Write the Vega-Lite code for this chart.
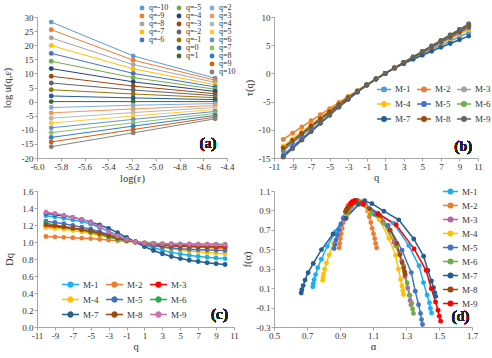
{
"$schema":"https://vega.github.io/schema/vega-lite/v6.json",
"padding":{"left":2,"top":4,"right":0,"bottom":0},
"config":{
 "font":"Liberation Serif",
 "locale":{"number":{"decimal":".","thousands":",","grouping":[3],"currency":["$",""],"minus":"-"}},
 "view":{"stroke":null},
 "axis":{"grid":false,"domainColor":"#A6A6A6","tickColor":"#A6A6A6","tickSize":3,"labelFontSize":9,"labelColor":"#333333","titleFontSize":10.5,"titleFontWeight":"normal","titleColor":"#333333","labelPadding":1,"titlePadding":3,"labelFont":"Liberation Serif","titleFont":"Liberation Serif","labelOverlap":false,"labelFlush":false,"labelBound":false},
 "axisQuantitative":{"labelOverlap":false},
 "axisX":{"labelOverlap":false},
 "axisY":{"labelOverlap":false},
 "legend":{"labelFont":"Liberation Serif","labelColor":"#333333","symbolOpacity":1}
},
"datasets":{
"a":[
{"s":"q=-10","x":-5.88,"y":28.2},{"s":"q=-10","x":-5.19,"y":16.2},{"s":"q=-10","x":-4.5,"y":8.3},
{"s":"q=-9","x":-5.88,"y":25.5},{"s":"q=-9","x":-5.19,"y":14.7},{"s":"q=-9","x":-4.5,"y":7.6},
{"s":"q=-8","x":-5.88,"y":22.6},{"s":"q=-8","x":-5.19,"y":13.1},{"s":"q=-8","x":-4.5,"y":6.8},
{"s":"q=-7","x":-5.88,"y":19.9},{"s":"q=-7","x":-5.19,"y":11.6},{"s":"q=-7","x":-4.5,"y":6.0},
{"s":"q=-6","x":-5.88,"y":17.1},{"s":"q=-6","x":-5.19,"y":10.0},{"s":"q=-6","x":-4.5,"y":5.2},
{"s":"q=-5","x":-5.88,"y":14.3},{"s":"q=-5","x":-5.19,"y":8.5},{"s":"q=-5","x":-4.5,"y":4.4},
{"s":"q=-4","x":-5.88,"y":11.7},{"s":"q=-4","x":-5.19,"y":7.0},{"s":"q=-4","x":-4.5,"y":3.6},
{"s":"q=-3","x":-5.88,"y":9.0},{"s":"q=-3","x":-5.19,"y":5.5},{"s":"q=-3","x":-4.5,"y":2.8},
{"s":"q=-2","x":-5.88,"y":6.6},{"s":"q=-2","x":-5.19,"y":4.1},{"s":"q=-2","x":-4.5,"y":2.1},
{"s":"q=-1","x":-5.88,"y":4.2},{"s":"q=-1","x":-5.19,"y":2.7},{"s":"q=-1","x":-4.5,"y":1.4},
{"s":"q=0","x":-5.88,"y":2.0},{"s":"q=0","x":-5.19,"y":1.3},{"s":"q=0","x":-4.5,"y":0.7},
{"s":"q=1","x":-5.88,"y":0.0},{"s":"q=1","x":-5.19,"y":0.0},{"s":"q=1","x":-4.5,"y":0.0},
{"s":"q=2","x":-5.88,"y":-2.1},{"s":"q=2","x":-5.19,"y":-1.3},{"s":"q=2","x":-4.5,"y":-0.7},
{"s":"q=3","x":-5.88,"y":-4.0},{"s":"q=3","x":-5.19,"y":-2.6},{"s":"q=3","x":-4.5,"y":-1.4},
{"s":"q=4","x":-5.88,"y":-5.9},{"s":"q=4","x":-5.19,"y":-3.9},{"s":"q=4","x":-4.5,"y":-2.1},
{"s":"q=5","x":-5.88,"y":-7.6},{"s":"q=5","x":-5.19,"y":-5.1},{"s":"q=5","x":-4.5,"y":-2.8},
{"s":"q=6","x":-5.88,"y":-9.3},{"s":"q=6","x":-5.19,"y":-6.3},{"s":"q=6","x":-4.5,"y":-3.5},
{"s":"q=7","x":-5.88,"y":-11.0},{"s":"q=7","x":-5.19,"y":-7.5},{"s":"q=7","x":-4.5,"y":-4.2},
{"s":"q=8","x":-5.88,"y":-12.7},{"s":"q=8","x":-5.19,"y":-8.7},{"s":"q=8","x":-4.5,"y":-4.9},
{"s":"q=9","x":-5.88,"y":-14.3},{"s":"q=9","x":-5.19,"y":-9.9},{"s":"q=9","x":-4.5,"y":-5.5},
{"s":"q=10","x":-5.88,"y":-16.0},{"s":"q=10","x":-5.19,"y":-11.1},{"s":"q=10","x":-4.5,"y":-6.1}
],
"bc":[
{"s":"M-1","q":-10,"D":1.31,"t":-14.41},{"s":"M-1","q":-9,"D":1.295,"t":-12.95},{"s":"M-1","q":-8,"D":1.28,"t":-11.52},{"s":"M-1","q":-7,"D":1.26,"t":-10.08},{"s":"M-1","q":-6,"D":1.24,"t":-8.68},{"s":"M-1","q":-5,"D":1.21,"t":-7.26},{"s":"M-1","q":-4,"D":1.17,"t":-5.85},{"s":"M-1","q":-3,"D":1.125,"t":-4.5},{"s":"M-1","q":-2,"D":1.08,"t":-3.24},{"s":"M-1","q":-1,"D":1.04,"t":-2.08},{"s":"M-1","q":0,"D":1.0,"t":-1},{"s":"M-1","q":1,"D":0.965,"t":0},{"s":"M-1","q":2,"D":0.932,"t":0.932},{"s":"M-1","q":3,"D":0.903,"t":1.806},{"s":"M-1","q":4,"D":0.878,"t":2.634},{"s":"M-1","q":5,"D":0.858,"t":3.432},{"s":"M-1","q":6,"D":0.843,"t":4.215},{"s":"M-1","q":7,"D":0.83,"t":4.98},{"s":"M-1","q":8,"D":0.82,"t":5.74},{"s":"M-1","q":9,"D":0.811,"t":6.488},{"s":"M-1","q":10,"D":0.805,"t":7.245},
{"s":"M-2","q":-10,"D":1.065,"t":-11.715},{"s":"M-2","q":-9,"D":1.06,"t":-10.6},{"s":"M-2","q":-8,"D":1.055,"t":-9.495},{"s":"M-2","q":-7,"D":1.05,"t":-8.4},{"s":"M-2","q":-6,"D":1.045,"t":-7.315},{"s":"M-2","q":-5,"D":1.04,"t":-6.24},{"s":"M-2","q":-4,"D":1.032,"t":-5.16},{"s":"M-2","q":-3,"D":1.024,"t":-4.096},{"s":"M-2","q":-2,"D":1.016,"t":-3.048},{"s":"M-2","q":-1,"D":1.008,"t":-2.016},{"s":"M-2","q":0,"D":1.0,"t":-1},{"s":"M-2","q":1,"D":0.99,"t":0},{"s":"M-2","q":2,"D":0.98,"t":0.98},{"s":"M-2","q":3,"D":0.97,"t":1.94},{"s":"M-2","q":4,"D":0.962,"t":2.886},{"s":"M-2","q":5,"D":0.954,"t":3.816},{"s":"M-2","q":6,"D":0.947,"t":4.735},{"s":"M-2","q":7,"D":0.94,"t":5.64},{"s":"M-2","q":8,"D":0.934,"t":6.538},{"s":"M-2","q":9,"D":0.928,"t":7.424},{"s":"M-2","q":10,"D":0.923,"t":8.307},
{"s":"M-3","q":-10,"D":1.19,"t":-13.09},{"s":"M-3","q":-9,"D":1.18,"t":-11.8},{"s":"M-3","q":-8,"D":1.17,"t":-10.53},{"s":"M-3","q":-7,"D":1.155,"t":-9.24},{"s":"M-3","q":-6,"D":1.14,"t":-7.98},{"s":"M-3","q":-5,"D":1.12,"t":-6.72},{"s":"M-3","q":-4,"D":1.1,"t":-5.5},{"s":"M-3","q":-3,"D":1.075,"t":-4.3},{"s":"M-3","q":-2,"D":1.05,"t":-3.15},{"s":"M-3","q":-1,"D":1.025,"t":-2.05},{"s":"M-3","q":0,"D":1.0,"t":-1},{"s":"M-3","q":1,"D":0.985,"t":0},{"s":"M-3","q":2,"D":0.973,"t":0.973},{"s":"M-3","q":3,"D":0.965,"t":1.93},{"s":"M-3","q":4,"D":0.96,"t":2.88},{"s":"M-3","q":5,"D":0.956,"t":3.824},{"s":"M-3","q":6,"D":0.953,"t":4.765},{"s":"M-3","q":7,"D":0.951,"t":5.706},{"s":"M-3","q":8,"D":0.95,"t":6.65},{"s":"M-3","q":9,"D":0.949,"t":7.592},{"s":"M-3","q":10,"D":0.948,"t":8.532},
{"s":"M-4","q":-10,"D":1.17,"t":-12.87},{"s":"M-4","q":-9,"D":1.16,"t":-11.6},{"s":"M-4","q":-8,"D":1.15,"t":-10.35},{"s":"M-4","q":-7,"D":1.135,"t":-9.08},{"s":"M-4","q":-6,"D":1.12,"t":-7.84},{"s":"M-4","q":-5,"D":1.1,"t":-6.6},{"s":"M-4","q":-4,"D":1.08,"t":-5.4},{"s":"M-4","q":-3,"D":1.055,"t":-4.22},{"s":"M-4","q":-2,"D":1.035,"t":-3.105},{"s":"M-4","q":-1,"D":1.015,"t":-2.03},{"s":"M-4","q":0,"D":1.0,"t":-1},{"s":"M-4","q":1,"D":0.98,"t":0},{"s":"M-4","q":2,"D":0.96,"t":0.96},{"s":"M-4","q":3,"D":0.94,"t":1.88},{"s":"M-4","q":4,"D":0.922,"t":2.766},{"s":"M-4","q":5,"D":0.906,"t":3.624},{"s":"M-4","q":6,"D":0.894,"t":4.47},{"s":"M-4","q":7,"D":0.884,"t":5.304},{"s":"M-4","q":8,"D":0.875,"t":6.125},{"s":"M-4","q":9,"D":0.868,"t":6.944},{"s":"M-4","q":10,"D":0.862,"t":7.758},
{"s":"M-5","q":-10,"D":1.245,"t":-13.695},{"s":"M-5","q":-9,"D":1.23,"t":-12.3},{"s":"M-5","q":-8,"D":1.215,"t":-10.935},{"s":"M-5","q":-7,"D":1.195,"t":-9.56},{"s":"M-5","q":-6,"D":1.175,"t":-8.225},{"s":"M-5","q":-5,"D":1.15,"t":-6.9},{"s":"M-5","q":-4,"D":1.12,"t":-5.6},{"s":"M-5","q":-3,"D":1.09,"t":-4.36},{"s":"M-5","q":-2,"D":1.06,"t":-3.18},{"s":"M-5","q":-1,"D":1.03,"t":-2.06},{"s":"M-5","q":0,"D":1.0,"t":-1},{"s":"M-5","q":1,"D":0.975,"t":0},{"s":"M-5","q":2,"D":0.955,"t":0.955},{"s":"M-5","q":3,"D":0.94,"t":1.88},{"s":"M-5","q":4,"D":0.93,"t":2.79},{"s":"M-5","q":5,"D":0.921,"t":3.684},{"s":"M-5","q":6,"D":0.915,"t":4.575},{"s":"M-5","q":7,"D":0.91,"t":5.46},{"s":"M-5","q":8,"D":0.906,"t":6.342},{"s":"M-5","q":9,"D":0.903,"t":7.224},{"s":"M-5","q":10,"D":0.9,"t":8.1},
{"s":"M-6","q":-10,"D":1.22,"t":-13.42},{"s":"M-6","q":-9,"D":1.2,"t":-12.0},{"s":"M-6","q":-8,"D":1.18,"t":-10.62},{"s":"M-6","q":-7,"D":1.16,"t":-9.28},{"s":"M-6","q":-6,"D":1.14,"t":-7.98},{"s":"M-6","q":-5,"D":1.115,"t":-6.69},{"s":"M-6","q":-4,"D":1.09,"t":-5.45},{"s":"M-6","q":-3,"D":1.06,"t":-4.24},{"s":"M-6","q":-2,"D":1.035,"t":-3.105},{"s":"M-6","q":-1,"D":1.015,"t":-2.03},{"s":"M-6","q":0,"D":1.0,"t":-1},{"s":"M-6","q":1,"D":0.99,"t":0},{"s":"M-6","q":2,"D":0.985,"t":0.985},{"s":"M-6","q":3,"D":0.981,"t":1.962},{"s":"M-6","q":4,"D":0.979,"t":2.937},{"s":"M-6","q":5,"D":0.977,"t":3.908},{"s":"M-6","q":6,"D":0.976,"t":4.88},{"s":"M-6","q":7,"D":0.975,"t":5.85},{"s":"M-6","q":8,"D":0.974,"t":6.818},{"s":"M-6","q":9,"D":0.973,"t":7.784},{"s":"M-6","q":10,"D":0.972,"t":8.748},
{"s":"M-7","q":-10,"D":1.335,"t":-14.685},{"s":"M-7","q":-9,"D":1.32,"t":-13.2},{"s":"M-7","q":-8,"D":1.305,"t":-11.745},{"s":"M-7","q":-7,"D":1.29,"t":-10.32},{"s":"M-7","q":-6,"D":1.265,"t":-8.855},{"s":"M-7","q":-5,"D":1.235,"t":-7.41},{"s":"M-7","q":-4,"D":1.2,"t":-6.0},{"s":"M-7","q":-3,"D":1.16,"t":-4.64},{"s":"M-7","q":-2,"D":1.11,"t":-3.33},{"s":"M-7","q":-1,"D":1.055,"t":-2.11},{"s":"M-7","q":0,"D":1.0,"t":-1},{"s":"M-7","q":1,"D":0.945,"t":0},{"s":"M-7","q":2,"D":0.9,"t":0.9},{"s":"M-7","q":3,"D":0.862,"t":1.724},{"s":"M-7","q":4,"D":0.83,"t":2.49},{"s":"M-7","q":5,"D":0.805,"t":3.22},{"s":"M-7","q":6,"D":0.785,"t":3.925},{"s":"M-7","q":7,"D":0.77,"t":4.62},{"s":"M-7","q":8,"D":0.756,"t":5.292},{"s":"M-7","q":9,"D":0.745,"t":5.96},{"s":"M-7","q":10,"D":0.735,"t":6.615},
{"s":"M-8","q":-10,"D":1.2,"t":-13.2},{"s":"M-8","q":-9,"D":1.19,"t":-11.9},{"s":"M-8","q":-8,"D":1.18,"t":-10.62},{"s":"M-8","q":-7,"D":1.165,"t":-9.32},{"s":"M-8","q":-6,"D":1.15,"t":-8.05},{"s":"M-8","q":-5,"D":1.13,"t":-6.78},{"s":"M-8","q":-4,"D":1.105,"t":-5.525},{"s":"M-8","q":-3,"D":1.075,"t":-4.3},{"s":"M-8","q":-2,"D":1.045,"t":-3.135},{"s":"M-8","q":-1,"D":1.02,"t":-2.04},{"s":"M-8","q":0,"D":1.0,"t":-1},{"s":"M-8","q":1,"D":0.985,"t":0},{"s":"M-8","q":2,"D":0.97,"t":0.97},{"s":"M-8","q":3,"D":0.96,"t":1.92},{"s":"M-8","q":4,"D":0.955,"t":2.865},{"s":"M-8","q":5,"D":0.95,"t":3.8},{"s":"M-8","q":6,"D":0.947,"t":4.735},{"s":"M-8","q":7,"D":0.945,"t":5.67},{"s":"M-8","q":8,"D":0.943,"t":6.601},{"s":"M-8","q":9,"D":0.942,"t":7.536},{"s":"M-8","q":10,"D":0.94,"t":8.46},
{"s":"M-9","q":-10,"D":1.35,"t":-14.85},{"s":"M-9","q":-9,"D":1.335,"t":-13.35},{"s":"M-9","q":-8,"D":1.315,"t":-11.835},{"s":"M-9","q":-7,"D":1.29,"t":-10.32},{"s":"M-9","q":-6,"D":1.265,"t":-8.855},{"s":"M-9","q":-5,"D":1.23,"t":-7.38},{"s":"M-9","q":-4,"D":1.18,"t":-5.9},{"s":"M-9","q":-3,"D":1.12,"t":-4.48},{"s":"M-9","q":-2,"D":1.07,"t":-3.21},{"s":"M-9","q":-1,"D":1.03,"t":-2.06},{"s":"M-9","q":0,"D":1.0,"t":-1},{"s":"M-9","q":1,"D":0.986,"t":0},{"s":"M-9","q":2,"D":0.98,"t":0.98},{"s":"M-9","q":3,"D":0.978,"t":1.956},{"s":"M-9","q":4,"D":0.976,"t":2.928},{"s":"M-9","q":5,"D":0.975,"t":3.9},{"s":"M-9","q":6,"D":0.974,"t":4.87},{"s":"M-9","q":7,"D":0.973,"t":5.838},{"s":"M-9","q":8,"D":0.973,"t":6.811},{"s":"M-9","q":9,"D":0.972,"t":7.776},{"s":"M-9","q":10,"D":0.972,"t":8.748}
],
"d":[
{"s":"M-1","q":10,"a":0.735,"f":0.115},{"s":"M-1","q":9,"a":0.738,"f":0.146},{"s":"M-1","q":8,"a":0.743,"f":0.186},{"s":"M-1","q":7,"a":0.752,"f":0.239},{"s":"M-1","q":6,"a":0.765,"f":0.31},{"s":"M-1","q":5,"a":0.787,"f":0.398},{"s":"M-1","q":4,"a":0.823,"f":0.531},{"s":"M-1","q":3,"a":0.873,"f":0.681},{"s":"M-1","q":2,"a":0.928,"f":0.832},{"s":"M-1","q":1,"a":0.983,"f":0.965},{"s":"M-1","q":0,"a":1.01,"f":1.0},{"s":"M-1","q":-1,"a":1.055,"f":0.965},{"s":"M-1","q":-2,"a":1.13,"f":0.873},{"s":"M-1","q":-3,"a":1.224,"f":0.769},{"s":"M-1","q":-4,"a":1.317,"f":0.538},{"s":"M-1","q":-5,"a":1.379,"f":0.33},{"s":"M-1","q":-6,"a":1.406,"f":0.157},{"s":"M-1","q":-7,"a":1.428,"f":0.03},{"s":"M-1","q":-8,"a":1.442,"f":-0.051},{"s":"M-1","q":-9,"a":1.448,"f":-0.109},{"s":"M-1","q":-10,"a":1.455,"f":-0.155},
{"s":"M-2","q":10,"a":0.895,"f":0.515},{"s":"M-2","q":9,"a":0.898,"f":0.56},{"s":"M-2","q":8,"a":0.902,"f":0.61},{"s":"M-2","q":7,"a":0.907,"f":0.66},{"s":"M-2","q":6,"a":0.913,"f":0.715},{"s":"M-2","q":5,"a":0.92,"f":0.775},{"s":"M-2","q":4,"a":0.928,"f":0.835},{"s":"M-2","q":3,"a":0.937,"f":0.895},{"s":"M-2","q":2,"a":0.948,"f":0.95},{"s":"M-2","q":1,"a":0.975,"f":0.99},{"s":"M-2","q":0,"a":1.0,"f":1.0},{"s":"M-2","q":-1,"a":1.03,"f":0.99},{"s":"M-2","q":-2,"a":1.057,"f":0.95},{"s":"M-2","q":-3,"a":1.068,"f":0.895},{"s":"M-2","q":-4,"a":1.078,"f":0.835},{"s":"M-2","q":-5,"a":1.087,"f":0.775},{"s":"M-2","q":-6,"a":1.095,"f":0.715},{"s":"M-2","q":-7,"a":1.103,"f":0.66},{"s":"M-2","q":-8,"a":1.11,"f":0.61},{"s":"M-2","q":-9,"a":1.116,"f":0.56},{"s":"M-2","q":-10,"a":1.122,"f":0.515},
{"s":"M-3","q":10,"a":0.935,"f":0.815},{"s":"M-3","q":9,"a":0.936,"f":0.821},{"s":"M-3","q":8,"a":0.937,"f":0.83},{"s":"M-3","q":7,"a":0.939,"f":0.841},{"s":"M-3","q":6,"a":0.942,"f":0.856},{"s":"M-3","q":5,"a":0.947,"f":0.874},{"s":"M-3","q":4,"a":0.956,"f":0.902},{"s":"M-3","q":3,"a":0.968,"f":0.933},{"s":"M-3","q":2,"a":0.981,"f":0.965},{"s":"M-3","q":1,"a":0.994,"f":0.993},{"s":"M-3","q":0,"a":1.0,"f":1.0},{"s":"M-3","q":-1,"a":1.033,"f":0.968},{"s":"M-3","q":-2,"a":1.089,"f":0.882},{"s":"M-3","q":-3,"a":1.158,"f":0.786},{"s":"M-3","q":-4,"a":1.228,"f":0.572},{"s":"M-3","q":-5,"a":1.274,"f":0.379},{"s":"M-3","q":-6,"a":1.294,"f":0.219},{"s":"M-3","q":-7,"a":1.31,"f":0.101},{"s":"M-3","q":-8,"a":1.32,"f":0.026},{"s":"M-3","q":-9,"a":1.325,"f":-0.027},{"s":"M-3","q":-10,"a":1.33,"f":-0.07},
{"s":"M-4","q":10,"a":0.795,"f":0.18},{"s":"M-4","q":9,"a":0.797,"f":0.209},{"s":"M-4","q":8,"a":0.801,"f":0.246},{"s":"M-4","q":7,"a":0.807,"f":0.295},{"s":"M-4","q":6,"a":0.818,"f":0.36},{"s":"M-4","q":5,"a":0.834,"f":0.442},{"s":"M-4","q":4,"a":0.861,"f":0.565},{"s":"M-4","q":3,"a":0.898,"f":0.705},{"s":"M-4","q":2,"a":0.939,"f":0.844},{"s":"M-4","q":1,"a":0.98,"f":0.967},{"s":"M-4","q":0,"a":1.0,"f":1.0},{"s":"M-4","q":-1,"a":1.029,"f":0.971},{"s":"M-4","q":-2,"a":1.077,"f":0.894},{"s":"M-4","q":-3,"a":1.137,"f":0.807},{"s":"M-4","q":-4,"a":1.197,"f":0.614},{"s":"M-4","q":-5,"a":1.237,"f":0.44},{"s":"M-4","q":-6,"a":1.254,"f":0.296},{"s":"M-4","q":-7,"a":1.268,"f":0.189},{"s":"M-4","q":-8,"a":1.276,"f":0.122},{"s":"M-4","q":-9,"a":1.281,"f":0.074},{"s":"M-4","q":-10,"a":1.285,"f":0.035},
{"s":"M-5","q":10,"a":0.864,"f":0.508},{"s":"M-5","q":9,"a":0.87,"f":0.55},{"s":"M-5","q":8,"a":0.876,"f":0.595},{"s":"M-5","q":7,"a":0.884,"f":0.645},{"s":"M-5","q":6,"a":0.895,"f":0.7},{"s":"M-5","q":5,"a":0.905,"f":0.76},{"s":"M-5","q":4,"a":0.92,"f":0.82},{"s":"M-5","q":3,"a":0.935,"f":0.88},{"s":"M-5","q":2,"a":0.955,"f":0.935},{"s":"M-5","q":1,"a":0.975,"f":0.985},{"s":"M-5","q":0,"a":1.0,"f":1.0},{"s":"M-5","q":-1,"a":1.04,"f":0.962},{"s":"M-5","q":-2,"a":1.108,"f":0.86},{"s":"M-5","q":-3,"a":1.192,"f":0.745},{"s":"M-5","q":-4,"a":1.276,"f":0.49},{"s":"M-5","q":-5,"a":1.332,"f":0.26},{"s":"M-5","q":-6,"a":1.356,"f":0.069},{"s":"M-5","q":-7,"a":1.376,"f":-0.071},{"s":"M-5","q":-8,"a":1.388,"f":-0.16},{"s":"M-5","q":-9,"a":1.394,"f":-0.224},{"s":"M-5","q":-10,"a":1.4,"f":-0.275},
{"s":"M-6","q":10,"a":0.94,"f":0.87},{"s":"M-6","q":9,"a":0.941,"f":0.875},{"s":"M-6","q":8,"a":0.942,"f":0.88},{"s":"M-6","q":7,"a":0.944,"f":0.888},{"s":"M-6","q":6,"a":0.947,"f":0.899},{"s":"M-6","q":5,"a":0.951,"f":0.912},{"s":"M-6","q":4,"a":0.959,"f":0.931},{"s":"M-6","q":3,"a":0.97,"f":0.953},{"s":"M-6","q":2,"a":0.982,"f":0.975},{"s":"M-6","q":1,"a":0.994,"f":0.995},{"s":"M-6","q":0,"a":1.0,"f":1.0},{"s":"M-6","q":-1,"a":1.035,"f":0.965},{"s":"M-6","q":-2,"a":1.093,"f":0.872},{"s":"M-6","q":-3,"a":1.166,"f":0.768},{"s":"M-6","q":-4,"a":1.238,"f":0.536},{"s":"M-6","q":-5,"a":1.286,"f":0.327},{"s":"M-6","q":-6,"a":1.307,"f":0.153},{"s":"M-6","q":-7,"a":1.324,"f":0.026},{"s":"M-6","q":-8,"a":1.335,"f":-0.056},{"s":"M-6","q":-9,"a":1.34,"f":-0.114},{"s":"M-6","q":-10,"a":1.345,"f":-0.16},
{"s":"M-7","q":10,"a":0.665,"f":0.05},{"s":"M-7","q":9,"a":0.669,"f":0.083},{"s":"M-7","q":8,"a":0.677,"f":0.126},{"s":"M-7","q":7,"a":0.688,"f":0.183},{"s":"M-7","q":6,"a":0.707,"f":0.259},{"s":"M-7","q":5,"a":0.738,"f":0.354},{"s":"M-7","q":4,"a":0.788,"f":0.497},{"s":"M-7","q":3,"a":0.858,"f":0.658},{"s":"M-7","q":2,"a":0.935,"f":0.82},{"s":"M-7","q":1,"a":1.012,"f":0.962},{"s":"M-7","q":0,"a":1.05,"f":1.0},{"s":"M-7","q":-1,"a":1.093,"f":0.97},{"s":"M-7","q":-2,"a":1.166,"f":0.892},{"s":"M-7","q":-3,"a":1.256,"f":0.803},{"s":"M-7","q":-4,"a":1.347,"f":0.606},{"s":"M-7","q":-5,"a":1.407,"f":0.429},{"s":"M-7","q":-6,"a":1.433,"f":0.281},{"s":"M-7","q":-7,"a":1.454,"f":0.173},{"s":"M-7","q":-8,"a":1.467,"f":0.104},{"s":"M-7","q":-9,"a":1.474,"f":0.054},{"s":"M-7","q":-10,"a":1.48,"f":0.015},
{"s":"M-8","q":10,"a":0.935,"f":0.89},{"s":"M-8","q":9,"a":0.936,"f":0.894},{"s":"M-8","q":8,"a":0.937,"f":0.899},{"s":"M-8","q":7,"a":0.939,"f":0.905},{"s":"M-8","q":6,"a":0.942,"f":0.914},{"s":"M-8","q":5,"a":0.947,"f":0.925},{"s":"M-8","q":4,"a":0.956,"f":0.942},{"s":"M-8","q":3,"a":0.968,"f":0.96},{"s":"M-8","q":2,"a":0.981,"f":0.979},{"s":"M-8","q":1,"a":0.994,"f":0.996},{"s":"M-8","q":0,"a":1.0,"f":1.0},{"s":"M-8","q":-1,"a":1.03,"f":0.977},{"s":"M-8","q":-2,"a":1.08,"f":0.916},{"s":"M-8","q":-3,"a":1.142,"f":0.848},{"s":"M-8","q":-4,"a":1.204,"f":0.696},{"s":"M-8","q":-5,"a":1.245,"f":0.559},{"s":"M-8","q":-6,"a":1.263,"f":0.445},{"s":"M-8","q":-7,"a":1.277,"f":0.362},{"s":"M-8","q":-8,"a":1.286,"f":0.308},{"s":"M-8","q":-9,"a":1.291,"f":0.27},{"s":"M-8","q":-10,"a":1.295,"f":0.24},
{"s":"M-9","q":10,"a":0.965,"f":0.97},{"s":"M-9","q":9,"a":0.9653,"f":0.971},{"s":"M-9","q":8,"a":0.966,"f":0.972},{"s":"M-9","q":7,"a":0.9665,"f":0.974},{"s":"M-9","q":6,"a":0.968,"f":0.977},{"s":"M-9","q":5,"a":0.97,"f":0.98},{"s":"M-9","q":4,"a":0.973,"f":0.984},{"s":"M-9","q":3,"a":0.9775,"f":0.989},{"s":"M-9","q":2,"a":0.9825,"f":0.994},{"s":"M-9","q":1,"a":0.9875,"f":0.999},{"s":"M-9","q":0,"a":0.99,"f":1.0},{"s":"M-9","q":-1,"a":1.042,"f":0.963},{"s":"M-9","q":-2,"a":1.13,"f":0.864},{"s":"M-9","q":-3,"a":1.24,"f":0.752},{"s":"M-9","q":-4,"a":1.349,"f":0.504},{"s":"M-9","q":-5,"a":1.422,"f":0.281},{"s":"M-9","q":-6,"a":1.453,"f":0.095},{"s":"M-9","q":-7,"a":1.479,"f":-0.042},{"s":"M-9","q":-8,"a":1.494,"f":-0.128},{"s":"M-9","q":-9,"a":1.502,"f":-0.19},{"s":"M-9","q":-10,"a":1.51,"f":-0.24}
]
},
"columns":2,
"spacing":{"row":33,"column":40},
"bounds":"flush",
"resolve":{"scale":{"color":"independent","fill":"independent","stroke":"independent"},"legend":{"color":"independent"}},
"concat":[
 {"width":190,"height":141,"data":{"name":"a"},
  "encoding":{
   "x":{"field":"x","type":"quantitative","scale":{"domain":[-6,-4.4],"nice":false,"zero":false},"axis":{"title":"log(ε)","values":[-6,-5.8,-5.6,-5.4,-5.2,-5,-4.8,-4.6,-4.4],"format":".1f","titlePadding":2,"labelOverlap":false}},
   "y":{"field":"y","type":"quantitative","scale":{"domain":[-20,30],"nice":false,"zero":false},"axis":{"title":"log u(q,ε)","values":[-20,-15,-10,-5,0,5,10,15,20,25,30],"titlePadding":9,"labelOverlap":false}}
  },
  "layer":[
   {"mark":{"type":"line","strokeWidth":1},
    "encoding":{
     "stroke":{"field":"s","type":"nominal","legend":null,"scale":{
      "domain":["q=-10","q=-9","q=-8","q=-7","q=-6","q=-5","q=-4","q=-3","q=-2","q=-1","q=0","q=1","q=2","q=3","q=4","q=5","q=6","q=7","q=8","q=9","q=10"],
      "range":["#5B9BD5","#ED7D31","#A5A5A5","#FFC000","#4472C4","#70AD47","#264478","#9E480E","#636363","#997300","#255E91","#43682B","#7CAFDD","#F1975A","#B7B7B7","#FFCD33","#698ED0","#8CC168","#327DC2","#D26012","#848484"]}}}},
   {"mark":{"type":"point","filled":true,"size":24,"opacity":1},
    "encoding":{
     "color":{"field":"s","type":"nominal","scale":{
      "domain":["q=-10","q=-9","q=-8","q=-7","q=-6"," ","  ","   ","    ","q=-5","q=-4","q=-3","q=-2","q=-1","q=0","q=1","     ","      ","q=2","q=3","q=4","q=5","q=6","q=7","q=8","q=9","q=10"],
      "range":["#5B9BD5","#ED7D31","#A5A5A5","#FFC000","#4472C4","rgba(0,0,0,0)","rgba(0,0,0,0)","rgba(0,0,0,0)","rgba(0,0,0,0)","#70AD47","#264478","#9E480E","#636363","#997300","#255E91","#43682B","rgba(0,0,0,0)","rgba(0,0,0,0)","#7CAFDD","#F1975A","#B7B7B7","#FFCD33","#698ED0","#8CC168","#327DC2","#D26012","#848484"]},
      "legend":{"orient":"none","legendX":101,"legendY":-13,"columns":3,"direction":"vertical","title":null,"symbolType":"circle","symbolSize":24,"labelFontSize":8,"rowPadding":0,"columnPadding":6,"labelOffset":3}}}},
   {"mark":{"type":"text","fontSize":15,"font":"Liberation Serif","color":"#222222"},
    "encoding":{"x":{"datum":-4.56,"type":"quantitative","axis":{"title":"log(ε)","values":[-6,-5.8,-5.6,-5.4,-5.2,-5,-4.8,-4.6,-4.4],"format":".1f","titlePadding":2,"labelOverlap":false}},"y":{"datum":-14.7,"type":"quantitative","axis":{"title":"log u(q,ε)","values":[-20,-15,-10,-5,0,5,10,15,20,25,30],"titlePadding":9,"labelOverlap":false}},"text":{"value":"(a)"}}}
  ]},
 {"width":204,"height":141,"data":{"name":"bc"},
  "encoding":{
   "x":{"field":"q","type":"quantitative","scale":{"domain":[-11,11],"nice":false,"zero":false},"axis":{"title":"q","values":[-11,-9,-7,-5,-3,-1,1,3,5,7,9,11],"titlePadding":1,"labelOverlap":false}},
   "y":{"field":"t","type":"quantitative","scale":{"domain":[-15,10],"nice":false,"zero":false},"axis":{"title":"τ(q)","values":[-15,-10,-5,0,5,10],"titlePadding":4,"labelOverlap":false}}
  },
  "layer":[
   {"mark":{"type":"line","strokeWidth":1.5},
    "encoding":{
     "color":{"field":"s","type":"nominal","scale":{"domain":["M-1","M-2","M-3","M-4","M-5","M-6","M-7","M-8","M-9"],"range":["#5B9BD5","#ED7D31","#A5A5A5","#FFC000","#4472C4","#70AD47","#255E91","#9E480E","#636363"]},
      "legend":{"orient":"none","legendX":102,"legendY":64,"columns":3,"direction":"horizontal","title":null,"symbolType":"M-1,0L1,0M-0.32,0A0.32,0.32,0,1,0,0.32,0A0.32,0.32,0,1,0,-0.32,0M-0.12,0A0.12,0.12,0,1,0,0.12,0A0.12,0.12,0,1,0,-0.12,0","symbolSize":196,"symbolStrokeWidth":1.5,"labelFontSize":9,"rowPadding":1,"columnPadding":3,"labelOffset":3}}}},
   {"mark":{"type":"point","filled":true,"size":24,"opacity":1},
    "encoding":{
     "fill":{"field":"s","type":"nominal","legend":null,"scale":{"domain":["M-1","M-2","M-3","M-4","M-5","M-6","M-7","M-8","M-9"],"range":["#5B9BD5","#ED7D31","#A5A5A5","#FFC000","#4472C4","#70AD47","#255E91","#9E480E","#636363"]}}}},
   {"mark":{"type":"text","fontSize":15,"font":"Liberation Serif","color":"#222222"},
    "encoding":{"x":{"datum":9.4,"type":"quantitative","axis":{"title":"q","values":[-11,-9,-7,-5,-3,-1,1,3,5,7,9,11],"titlePadding":1,"labelOverlap":false}},"y":{"datum":-12.9,"type":"quantitative","axis":{"title":"τ(q)","values":[-15,-10,-5,0,5,10],"titlePadding":4,"labelOverlap":false}},"text":{"value":"(b)"}}}
  ]},
 {"width":197,"height":136,"data":{"name":"bc"},
  "encoding":{
   "x":{"field":"q","type":"quantitative","scale":{"domain":[-11,11],"nice":false,"zero":false},"axis":{"title":"q","values":[-11,-9,-7,-5,-3,-1,1,3,5,7,9,11],"titlePadding":1,"labelOverlap":false}},
   "y":{"field":"D","type":"quantitative","scale":{"domain":[0,1.6],"nice":false,"zero":false},"axis":{"title":"Dq","values":[0,0.2,0.4,0.6,0.8,1,1.2,1.4,1.6],"format":".1f","titlePadding":7,"labelOverlap":false}}
  },
  "layer":[
   {"mark":{"type":"line","strokeWidth":1.5},
    "encoding":{
     "color":{"field":"s","type":"nominal","scale":{"domain":["M-1","M-2","M-3","M-4","M-5","M-6","M-7","M-8","M-9"],"range":["#1CAFEF","#ED7D31","#FF0000","#FFC000","#4472C4","#2EA84A","#255E91","#9E480E","#CC6FB0"]},
      "legend":{"orient":"none","legendX":24,"legendY":84,"columns":3,"direction":"horizontal","title":null,"symbolType":"M-1,0L1,0M-0.28,0A0.28,0.28,0,1,0,0.28,0A0.28,0.28,0,1,0,-0.28,0M-0.1,0A0.1,0.1,0,1,0,0.1,0A0.1,0.1,0,1,0,-0.1,0","symbolSize":289,"symbolStrokeWidth":1.5,"labelFontSize":9,"rowPadding":-4,"columnPadding":4,"labelOffset":3}}}},
   {"mark":{"type":"point","filled":true,"size":24,"opacity":1},
    "encoding":{
     "fill":{"field":"s","type":"nominal","legend":null,"scale":{"domain":["M-1","M-2","M-3","M-4","M-5","M-6","M-7","M-8","M-9"],"range":["#1CAFEF","#ED7D31","#FF0000","#FFC000","#4472C4","#2EA84A","#255E91","#9E480E","#CC6FB0"]}}}},
   {"mark":{"type":"text","fontSize":15,"font":"Liberation Serif","color":"#222222"},
    "encoding":{"x":{"datum":9.4,"type":"quantitative","axis":{"title":"q","values":[-11,-9,-7,-5,-3,-1,1,3,5,7,9,11],"titlePadding":1,"labelOverlap":false}},"y":{"datum":0.15,"type":"quantitative","axis":{"title":"Dq","values":[0,0.2,0.4,0.6,0.8,1,1.2,1.4,1.6],"format":".1f","titlePadding":7,"labelOverlap":false}},"text":{"value":"(c)"}}}
  ]},
 {"width":198,"height":136,"data":{"name":"d"},
  "encoding":{
   "x":{"field":"a","type":"quantitative","scale":{"domain":[0.5,1.7],"nice":false,"zero":false},"axis":{"title":"α","values":[0.5,0.7,0.9,1.1,1.3,1.5,1.7],"format":".1f","titlePadding":1,"labelOverlap":false}},
   "y":{"field":"f","type":"quantitative","scale":{"domain":[-0.3,1.1],"nice":false,"zero":false},"axis":{"title":"f(α)","values":[-0.3,-0.1,0.1,0.3,0.5,0.7,0.9,1.1],"format":".1f","titlePadding":3,"labelOverlap":false}}
  },
  "layer":[
   {"mark":{"type":"line","strokeWidth":1.5},
    "encoding":{
     "order":{"field":"q","type":"quantitative","sort":"descending"},
     "color":{"field":"s","type":"nominal","scale":{"domain":["M-1","M-2","M-3","M-4","M-5","M-6","M-7","M-8","M-9"],"range":["#1CAFEF","#ED7D31","#B565A7","#FFC000","#4472C4","#70AD47","#255E91","#9E480E","#FF0000"]},
      "legend":{"orient":"none","legendX":168,"legendY":-8,"columns":1,"title":null,"symbolType":"M-1,0L1,0M-0.3,0A0.3,0.3,0,1,0,0.3,0A0.3,0.3,0,1,0,-0.3,0M-0.1,0A0.1,0.1,0,1,0,0.1,0A0.1,0.1,0,1,0,-0.1,0","symbolSize":225,"symbolStrokeWidth":1.5,"labelFontSize":9,"rowPadding":-1.5,"labelOffset":3}}}},
   {"mark":{"type":"point","filled":true,"size":24,"opacity":1},
    "encoding":{
     "fill":{"field":"s","type":"nominal","legend":null,"scale":{"domain":["M-1","M-2","M-3","M-4","M-5","M-6","M-7","M-8","M-9"],"range":["#1CAFEF","#ED7D31","#B565A7","#FFC000","#4472C4","#70AD47","#255E91","#9E480E","#FF0000"]}}}},
   {"mark":{"type":"text","fontSize":15,"font":"Liberation Serif","color":"#222222"},
    "encoding":{"x":{"datum":1.63,"type":"quantitative","axis":{"title":"α","values":[0.5,0.7,0.9,1.1,1.3,1.5,1.7],"format":".1f","titlePadding":1,"labelOverlap":false}},"y":{"datum":-0.19,"type":"quantitative","axis":{"title":"f(α)","values":[-0.3,-0.1,0.1,0.3,0.5,0.7,0.9,1.1],"format":".1f","titlePadding":3,"labelOverlap":false}},"text":{"value":"(d)"}}}
  ]}
]
}
